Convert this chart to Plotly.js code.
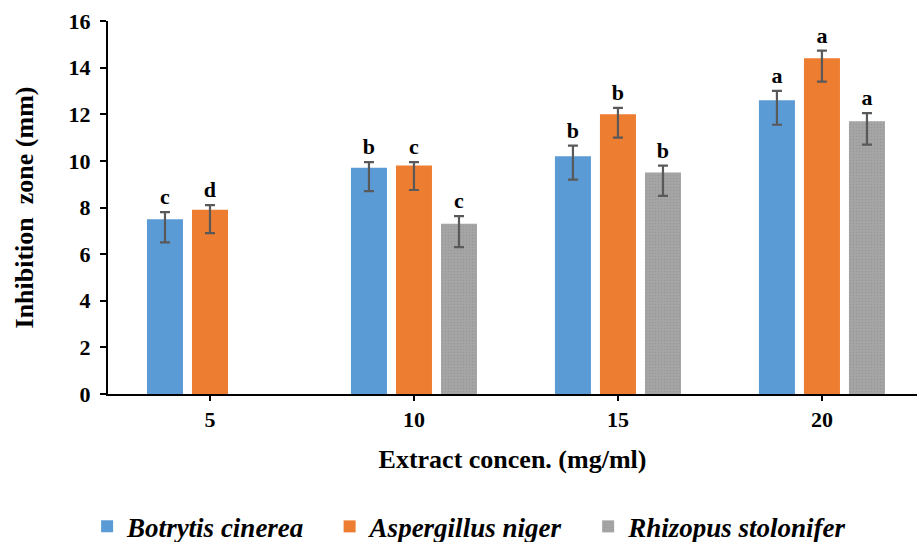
<!DOCTYPE html>
<html>
<head>
<meta charset="utf-8">
<script src="https://cdn.plot.ly/plotly-3.0.1.min.js"></script>
<style>html,body{margin:0;padding:0;background:#fff;}#chart{width:917px;height:542px;}</style>
</head>
<body>
<div id="chart"></div>
<script>
const categories = ['5', '10', '15', '20'];
const seriesNames = ['Botrytis cinerea', 'Aspergillus niger', 'Rhizopus stolonifer'];
const botrytis = [7.5, 9.7, 10.2, 12.6];
const aspergillus = [7.9, 9.8, 12.0, 14.4];
const rhizopus = [null, 7.3, 9.5, 11.7];
const botrytisErrPlus = [0.3, 0.25, 0.45, 0.4];
const botrytisErrMinus = [1.0, 1.0, 1.0, 1.05];
const aspergillusErrPlus = [0.2, 0.15, 0.27, 0.33];
const aspergillusErrMinus = [1.0, 1.05, 1.0, 1.0];
const rhizopusErrPlus = [null, 0.33, 0.3, 0.35];
const rhizopusErrMinus = [null, 1.0, 1.0, 1.0];
const botrytisLetters = ['c', 'b', 'b', 'a'];
const aspergillusLetters = ['d', 'c', 'b', 'a'];
const rhizopusLetters = ['', 'c', 'b', 'a'];

const colors = ['#5B9BD5', '#ED7D31', '#A5A5A5'];
const serif = 'Liberation Serif, Times New Roman, serif';

const values = [botrytis, aspergillus, rhizopus];
const plus = [botrytisErrPlus, aspergillusErrPlus, rhizopusErrPlus];
const minus = [botrytisErrMinus, aspergillusErrMinus, rhizopusErrMinus];
const letters = [botrytisLetters, aspergillusLetters, rhizopusLetters];
const legendPad = '\u00A0\u00A0\u00A0';

const traces = [];
values.forEach((v, i) => {
  const marker = {color: colors[i], line: {width: 0}};
  if (i === 2) {
    marker.pattern = {shape: '.', size: 3, solidity: 0.2, fgcolor: '#989898', bgcolor: colors[i], fillmode: 'replace'};
  }
  traces.push({
    type: 'bar', name: seriesNames[i] + (i < 2 ? legendPad : ''), x: categories, y: v,
    offsetgroup: String(i), marker: marker,
    error_y: {type: 'data', symmetric: false, array: plus[i], arrayminus: minus[i],
              color: '#595959', thickness: 2.2, width: 5},
    hoverinfo: 'y'
  });
});
// invisible label carriers placed at bar value + upper error
values.forEach((v, i) => {
  traces.push({
    type: 'bar', showlegend: false, x: categories,
    y: v.map((val, k) => val == null ? null : val + plus[i][k]),
    offsetgroup: String(i), marker: {color: 'rgba(0,0,0,0)'},
    text: letters[i], textposition: 'outside', cliponaxis: false,
    textfont: {family: serif, size: 22, color: '#000', weight: 'bold'},
    hoverinfo: 'skip'
  });
});

const layout = {
  width: 917, height: 542,
  margin: {l: 108, r: 0, t: 21, b: 148},
  paper_bgcolor: '#fff', plot_bgcolor: '#fff',
  barmode: 'group', bargap: 0.338, bargroupgap: 0.2,
  font: {family: serif, color: '#000'},
  xaxis: {
    type: 'category', range: [-0.5, 3.466],
    showline: true, linecolor: '#000', linewidth: 2,
    ticks: 'outside', ticklen: 5, tickwidth: 2, tickcolor: '#000',
    tickfont: {family: serif, size: 22, weight: 'bold'},
    title: {text: 'Extract concen. (mg/ml)', font: {family: serif, size: 26, weight: 'bold'}, standoff: 18},
    automargin: false, showgrid: false, zeroline: false
  },
  yaxis: {
    range: [0, 16], dtick: 2,
    showline: true, linecolor: '#000', linewidth: 2,
    ticks: 'outside', ticklen: 6, tickwidth: 2, tickcolor: '#000',
    ticklabelstandoff: 5,
    tickfont: {family: serif, size: 22, weight: 'bold'},
    title: {text: 'Inhibition&nbsp; zone (mm)', font: {family: serif, size: 26, weight: 'bold'}, standoff: 27},
    automargin: false, showgrid: false, zeroline: false
  },
  showlegend: true,
  legend: {
    orientation: 'h', xref: 'container', x: 0.095, xanchor: 'left',
    yref: 'container', y: 0.028, yanchor: 'middle',
    font: {family: serif, size: 27, weight: 'bold', style: 'italic'},
    itemwidth: 30, traceorder: 'normal'
  }
};

Plotly.newPlot('chart', traces, layout, {displayModeBar: false, staticPlot: true});
</script>
</body>
</html>
